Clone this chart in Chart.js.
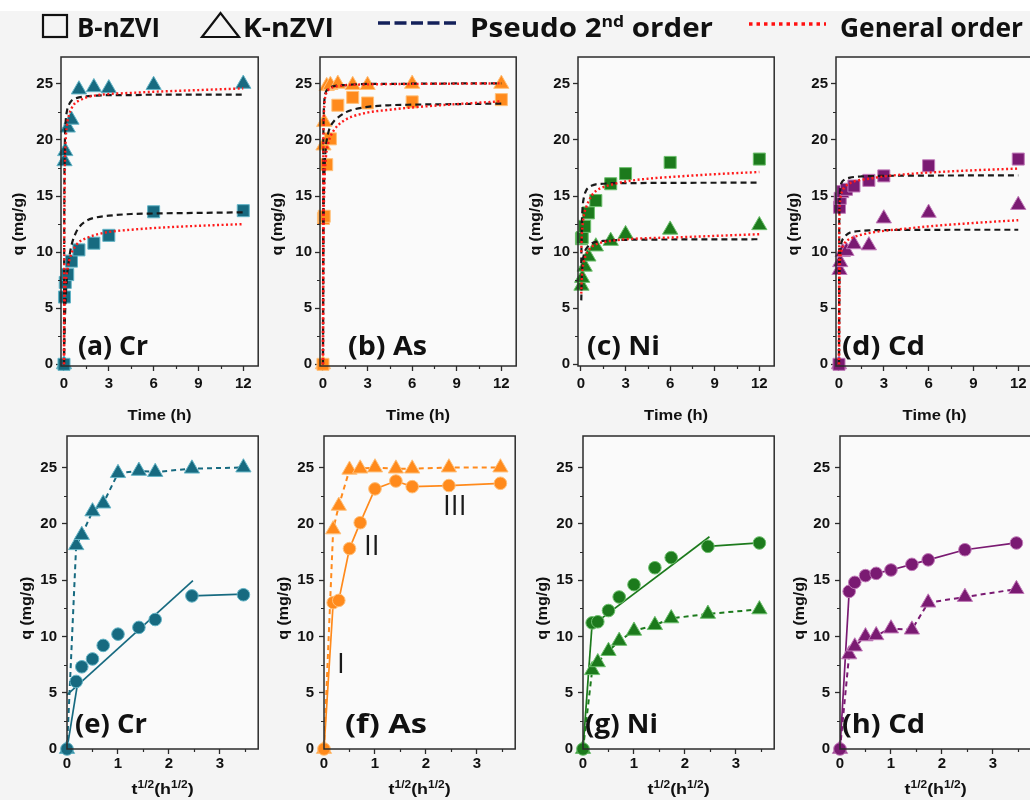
<!DOCTYPE html>
<html>
<head>
<meta charset="utf-8">
<script src="https://cdn.jsdelivr.net/npm/chart.js@4.4.1/dist/chart.umd.min.js"></script>
<style>
  html, body { margin: 0; padding: 0; }
  body { width: 1030px; height: 800px; overflow: hidden; position: relative; background: #f4f4f4; }
  canvas { position: absolute; }
  #band { position: absolute; left: 0; top: 0; width: 1030px; height: 11px; background: #ffffff; }
</style>
</head>
<body>
<div id="band"></div>
<canvas id="legend" width="1030" height="46" style="left:0;top:0"></canvas>
<canvas id="pa"></canvas>
<canvas id="pb"></canvas>
<canvas id="pc"></canvas>
<canvas id="pd"></canvas>
<canvas id="pe"></canvas>
<canvas id="pf"></canvas>
<canvas id="pg"></canvas>
<canvas id="ph"></canvas>
<script>
// sampling times (h) and their square roots
const TIME = [0, 0.033, 0.083, 0.25, 0.5, 1, 2, 3, 6, 12];
const ROOT_TIME = [0, 0.18, 0.29, 0.5, 0.71, 1, 1.41, 1.73, 2.45, 3.46];

// measured uptake q (mg/g), B-nZVI and K-nZVI
const CR_B = [0, 6.0, 7.3, 8.0, 9.2, 10.2, 10.8, 11.5, 13.6, 13.7];
const CR_K = [0, 18.1, 19.0, 21.1, 21.8, 24.5, 24.7, 24.6, 24.9, 25.0];
const AS_B = [0, 13.0, 13.2, 17.8, 20.1, 23.1, 23.8, 23.3, 23.4, 23.6];
const AS_K = [0, 19.5, 21.6, 24.8, 24.9, 25.0, 24.9, 24.9, 25.0, 25.0];
const NI_B = [0, 11.2, 11.3, 12.3, 13.5, 14.6, 16.1, 17.0, 18.0, 18.3];
const NI_K = [0, 7.0, 7.7, 8.7, 9.6, 10.5, 11.0, 11.6, 12.0, 12.4];
const CD_B = [0, 14.0, 14.8, 15.4, 15.6, 15.9, 16.4, 16.8, 17.7, 18.3];
const CD_K = [0, 8.4, 9.1, 10.0, 10.1, 10.7, 10.6, 13.0, 13.5, 14.2];

// model curves
const FIT_TIME = [0, 0.02, 0.05, 0.1, 0.2, 0.35, 0.5, 0.75, 1, 1.5, 2, 3, 4.5, 6, 9, 12];
const CR_PSO_B = [0, 1.5, 3.4, 5.5, 7.8, 9.5, 10.6, 11.6, 12.2, 12.8, 13.05, 13.25, 13.4, 13.45, 13.5, 13.55];
const CR_PSO_K = [0, 14, 19, 21.3, 22.6, 23.2, 23.5, 23.7, 23.8, 23.9, 23.95, 24.0, 24.0, 24.05, 24.05, 24.05];
const CR_GEN_B = [0, 4, 5.8, 7.0, 8.2, 9.2, 9.9, 10.5, 10.9, 11.25, 11.5, 11.8, 12.0, 12.15, 12.35, 12.5];
const CR_GEN_K = [0, 11, 16.5, 19.5, 21.3, 22.3, 22.8, 23.3, 23.5, 23.8, 23.95, 24.1, 24.2, 24.3, 24.45, 24.6];
const AS_PSO_B = [0, 9, 14, 17.2, 19.4, 20.6, 21.2, 21.7, 22.0, 22.45, 22.7, 22.95, 23.1, 23.15, 23.2, 23.25];
const AS_PSO_K = [0, 18, 22.3, 23.6, 24.3, 24.55, 24.7, 24.8, 24.85, 24.9, 24.95, 25.0, 25.0, 25.02, 25.04, 25.05];
const AS_GEN_B = [0, 8, 13, 16.2, 18.5, 19.7, 20.3, 20.9, 21.3, 21.8, 22.1, 22.45, 22.7, 22.9, 23.2, 23.45];
const AS_GEN_K = [0, 17, 21.5, 23.2, 24.1, 24.45, 24.6, 24.75, 24.8, 24.88, 24.92, 24.96, 24.98, 25.0, 25.02, 25.05];
const NI_PSO_B = [null, 9.0, 12.0, 13.8, 14.9, 15.5, 15.75, 15.95, 16.05, 16.1, 16.15, 16.15, 16.17, 16.18, 16.19, 16.2];
const NI_PSO_K = [null, 5.7, 7.6, 8.9, 9.8, 10.3, 10.55, 10.8, 10.9, 11.0, 11.05, 11.1, 11.12, 11.13, 11.14, 11.15];
const NI_GEN_B = [null, 10.0, 11.3, 12.3, 13.3, 14.0, 14.5, 15.1, 15.45, 15.8, 16.0, 16.3, 16.55, 16.7, 16.95, 17.15];
const NI_GEN_K = [null, 6.3, 7.5, 8.4, 9.2, 9.8, 10.15, 10.5, 10.7, 10.9, 11.0, 11.15, 11.25, 11.3, 11.45, 11.6];
const CD_PSO_B = [0, 13.0, 15.0, 15.8, 16.25, 16.45, 16.55, 16.65, 16.7, 16.75, 16.78, 16.8, 16.82, 16.83, 16.84, 16.85];
const CD_PSO_K = [0, 6.5, 9.0, 10.3, 11.0, 11.35, 11.55, 11.75, 11.83, 11.9, 11.95, 11.97, 11.98, 11.99, 12.0, 12.0];
const CD_GEN_B = [0, 12.5, 14.2, 14.9, 15.4, 15.75, 15.95, 16.15, 16.3, 16.45, 16.55, 16.75, 16.95, 17.1, 17.3, 17.45];
const CD_GEN_K = [0, 6.5, 8.6, 9.6, 10.3, 10.75, 11.0, 11.2, 11.35, 11.55, 11.7, 11.9, 12.1, 12.3, 12.6, 12.85];

// intraparticle diffusion fit segments [[x1, y1], [x2, y2]]
const CR_IPD_B = [[[0, 0], [0.2, 5.6]], [[0, 4.8], [2.47, 14.95]], [[2.45, 13.6], [3.46, 13.75]]];
const NI_IPD_B = [[[0, 0], [0.18, 11.2]], [[0.13, 10.8], [2.48, 18.85]], [[2.45, 18.0], [3.46, 18.3]]];

// tick values
const TIME_TICKS = [0, 3, 6, 9, 12];
const TIME_MINOR = [1.5, 4.5, 7.5, 10.5];
const ROOT_TICKS = [0, 1, 2, 3];
const ROOT_MINOR = [0.5, 1.5, 2.5, 3.5];
const Q_TICKS = [0, 5, 10, 15, 20, 25];
const Q_MINOR = [2.5, 7.5, 12.5, 17.5, 22.5];

// colours
const CR_COLOR = '#176a80', CR_EDGE = '#63b4c6';
const AS_COLOR = '#ff8a1c', AS_EDGE = '#ffc07a';
const NI_COLOR = '#1c7a1c', NI_EDGE = '#6cbf6c';
const CD_COLOR = '#7a1a72', CD_EDGE = '#c07ab8';
const PSO_COLOR = '#1a1a1a';
const GEN_COLOR = '#ff1a1a';
const PLOT_BG = '#fafafa';
const FRAME = '#2b2b2b';

const AXIS_W = 62, AXIS_H = 62, PAD_TOP = 8, PAD_RIGHT = 8;
const TICK_FONT = { family: "'Liberation Sans', Arial", weight: 700, size: 15 };

const PANELS = [
  { id: 'pa', kind: 'time', L: 61, T: 53, R: 260, B: 366, label: '(a) Cr', box: [78, 148, 355],
    color: CR_COLOR, edge: CR_EDGE, qB: CR_B, qK: CR_K, psoB: CR_PSO_B, psoK: CR_PSO_K, genB: CR_GEN_B, genK: CR_GEN_K },
  { id: 'pb', kind: 'time', L: 320, T: 53, R: 518, B: 366, label: '(b) As', box: [348, 427, 355],
    color: AS_COLOR, edge: AS_EDGE, qB: AS_B, qK: AS_K, psoB: AS_PSO_B, psoK: AS_PSO_K, genB: AS_GEN_B, genK: AS_GEN_K },
  { id: 'pc', kind: 'time', L: 578, T: 53, R: 776, B: 366, label: '(c) Ni', box: [587, 660, 355],
    color: NI_COLOR, edge: NI_EDGE, qB: NI_B, qK: NI_K, psoB: NI_PSO_B, psoK: NI_PSO_K, genB: NI_GEN_B, genK: NI_GEN_K, noOrigin: true },
  { id: 'pd', kind: 'time', L: 836, T: 53, R: 1035, B: 366, label: '(d) Cd', box: [842, 925, 355],
    color: CD_COLOR, edge: CD_EDGE, qB: CD_B, qK: CD_K, psoB: CD_PSO_B, psoK: CD_PSO_K, genB: CD_GEN_B, genK: CD_GEN_K },
  { id: 'pe', kind: 'root', L: 67, T: 430, R: 260, B: 749, label: '(e) Cr', box: [75, 147, 733],
    color: CR_COLOR, edge: CR_EDGE, qB: CR_B, qK: CR_K, fitB: CR_IPD_B },
  { id: 'pf', kind: 'root', L: 324, T: 430, R: 517, B: 749, label: '(f) As', box: [345, 427, 733],
    color: AS_COLOR, edge: AS_EDGE, qB: AS_B, qK: AS_K, stages: true },
  { id: 'pg', kind: 'root', L: 583, T: 430, R: 776, B: 749, label: '(g) Ni', box: [585, 658, 733],
    color: NI_COLOR, edge: NI_EDGE, qB: NI_B, qK: NI_K, fitB: NI_IPD_B },
  { id: 'ph', kind: 'root', L: 840, T: 430, R: 1033, B: 749, label: '(h) Cd', box: [842, 925, 733],
    color: CD_COLOR, edge: CD_EDGE, qB: CD_B, qK: CD_K }
];

function pts(xs, ys, skipFirst) {
  const out = [];
  xs.forEach((x, i) => {
    if (ys[i] === null || (skipFirst && i === 0)) return;
    out.push({ x: x, y: ys[i] });
  });
  return out;
}

// draws text pieces stretched to fill [left, right]
function drawFitted(ctx, parts, left, right, baseline) {
  let total = 0;
  parts.forEach(s => { ctx.font = s.font; s.w = ctx.measureText(s.text).width; total += s.w; });
  const k = (right - left) / total;
  ctx.save();
  ctx.textAlign = 'left';
  ctx.textBaseline = 'alphabetic';
  ctx.translate(left, baseline);
  ctx.scale(k, 1);
  let x = 0;
  parts.forEach(s => { ctx.font = s.font; ctx.fillText(s.text, x, s.dy || 0); x += s.w; });
  ctx.restore();
}

function markerSet(data, style, radius, p, order) {
  return {
    data: data, showLine: false, pointStyle: style, pointRadius: radius,
    pointBackgroundColor: p.color, pointBorderColor: p.edge, pointBorderWidth: 1,
    order: order, clip: false
  };
}

function lineSet(data, color, width, dash, order, smooth) {
  return {
    data: data, showLine: true, pointRadius: 0, borderColor: color, borderWidth: width,
    borderDash: dash, order: order, cubicInterpolationMode: smooth ? 'monotone' : 'default', tension: 0
  };
}

function buildDatasets(p) {
  if (p.kind === 'time') {
    return [
      markerSet(pts(TIME, p.qB, p.noOrigin), 'rect', 8.5, p, 3),
      markerSet(pts(TIME, p.qK, p.noOrigin), 'triangle', 8.8, p, 3),
      lineSet(pts(FIT_TIME, p.psoB), PSO_COLOR, 2.2, [6, 4], 2, true),
      lineSet(pts(FIT_TIME, p.psoK), PSO_COLOR, 2.2, [6, 4], 2, true),
      lineSet(pts(FIT_TIME, p.genB), GEN_COLOR, 2.4, [2, 2.5], 1, true),
      lineSet(pts(FIT_TIME, p.genK), GEN_COLOR, 2.4, [2, 2.5], 1, true)
    ];
  }
  const sets = [
    markerSet(pts(ROOT_TIME, p.qB), 'circle', 6.3, p, 1),
    markerSet(pts(ROOT_TIME, p.qK), 'triangle', 8.8, p, 1),
    lineSet(pts(ROOT_TIME, p.qK), p.color, 2, [5, 4], 2, false)
  ];
  if (p.fitB) {
    p.fitB.forEach(seg => sets.push(lineSet(seg.map(s => ({ x: s[0], y: s[1] })), p.color, 1.7, [], 2, false)));
  } else {
    sets.push(lineSet(pts(ROOT_TIME, p.qB), p.color, 1.7, [], 2, false));
  }
  return sets;
}

function makeDecor(p, ox, oy) {
  return {
    id: 'decor',
    beforeDraw(chart) {
      const a = chart.chartArea, ctx = chart.ctx;
      ctx.save();
      ctx.fillStyle = PLOT_BG;
      ctx.fillRect(a.left, a.top, a.right - a.left, a.bottom - a.top);
      ctx.restore();
    },
    afterDraw(chart) {
      const a = chart.chartArea, ctx = chart.ctx;
      const xs = chart.scales.x, ys = chart.scales.y;
      ctx.save();
      ctx.strokeStyle = FRAME;
      ctx.lineWidth = 1.5;
      ctx.strokeRect(a.left, a.top, a.right - a.left, a.bottom - a.top);

      // minor ticks
      ctx.lineWidth = 1.2;
      ctx.beginPath();
      (p.kind === 'time' ? TIME_MINOR : ROOT_MINOR).forEach(v => {
        if (v < xs.min || v > xs.max) return;
        const px = Math.round(xs.getPixelForValue(v)) + 0.5;
        ctx.moveTo(px, a.bottom); ctx.lineTo(px, a.bottom + 3);
      });
      Q_MINOR.forEach(v => {
        const py = Math.round(ys.getPixelForValue(v)) + 0.5;
        ctx.moveTo(a.left, py); ctx.lineTo(a.left - 3, py);
      });
      ctx.stroke();

      ctx.fillStyle = '#111';
      // y title, rotated, 63px long
      ctx.save();
      ctx.translate(a.left - (p.kind === 'time' ? 43 : 41), ys.getPixelForValue(12.5));
      ctx.rotate(-Math.PI / 2);
      drawFitted(ctx, [{ text: 'q (mg/g)', font: "700 14px 'Liberation Sans', Arial" }], -31.5, 31.5, 5);
      ctx.restore();

      // x title
      const cx = (a.left + a.right) / 2;
      if (p.kind === 'time') {
        drawFitted(ctx, [{ text: 'Time (h)', font: "700 15px 'Liberation Sans', Arial" }], cx - 32, cx + 32, a.bottom + 54);
      } else {
        const big = "700 15px 'Liberation Sans', Arial", small = "700 10px 'Liberation Sans', Arial";
        const parts = [
          { text: 't', font: big }, { text: '1/2', font: small, dy: -6 },
          { text: '(h', font: big }, { text: '1/2', font: small, dy: -6 }, { text: ')', font: big }
        ];
        drawFitted(ctx, parts, cx - 31, cx + 31, a.bottom + 45);
      }

      // panel label
      drawFitted(ctx, [{ text: p.label, font: '700 27px "Open Sans"' }], p.box[0] - ox, p.box[1] - ox, p.box[2] - oy);

      // stage numerals in (f)
      if (p.stages) {
        ctx.font = '400 28px "Open Sans"';
        ctx.textAlign = 'left';
        ctx.fillStyle = '#1a1a1a';
        ctx.fillText('I', 337 - ox, 673 - oy);
        ctx.fillText('II', 364 - ox, 555 - oy);
        ctx.fillText('III', 443 - ox, 515 - oy);
      }
      ctx.restore();
    }
  };
}

function buildChart(p) {
  const canvas = document.getElementById(p.id);
  const ox = p.L - AXIS_W, oy = p.T - PAD_TOP;
  canvas.width = p.R - p.L + AXIS_W + PAD_RIGHT;
  canvas.height = p.B - p.T + PAD_TOP + AXIS_H;
  canvas.style.left = ox + 'px';
  canvas.style.top = oy + 'px';

  const isTime = p.kind === 'time';
  const xTicks = isTime ? TIME_TICKS : ROOT_TICKS;
  const grid = { display: true, drawOnChartArea: false, drawTicks: true, tickLength: 5, tickColor: FRAME, tickWidth: 1.3 };

  new Chart(canvas, {
    type: 'scatter',
    data: { datasets: buildDatasets(p) },
    options: {
      responsive: false,
      animation: false,
      devicePixelRatio: 1,
      layout: { padding: { left: 0, top: PAD_TOP, right: PAD_RIGHT, bottom: 0 } },
      plugins: { legend: { display: false }, tooltip: { enabled: false } },
      scales: {
        x: {
          type: 'linear',
          min: isTime ? -0.2 : 0,
          max: isTime ? 13 : 3.75,
          afterFit: s => { s.height = AXIS_H; },
          afterBuildTicks: s => { s.ticks = xTicks.map(v => ({ value: v })); },
          grid: grid,
          border: { display: false },
          ticks: { font: TICK_FONT, color: '#111', padding: isTime ? 4 : 1, maxRotation: 0, autoSkip: false }
        },
        y: {
          type: 'linear',
          min: isTime ? -0.15 : 0,
          max: isTime ? 27.4 : 27.8,
          afterFit: s => { s.width = AXIS_W; },
          afterBuildTicks: s => { s.ticks = Q_TICKS.map(v => ({ value: v })); },
          grid: grid,
          border: { display: false },
          ticks: { font: TICK_FONT, color: '#111', padding: isTime ? 3 : 5, autoSkip: false }
        }
      }
    },
    plugins: [makeDecor(p, ox, oy)]
  });
}

function drawLegend() {
  const ctx = document.getElementById('legend').getContext('2d');
  ctx.strokeStyle = '#111';
  ctx.fillStyle = '#111';
  ctx.lineWidth = 2.2;
  ctx.strokeRect(43, 15, 24, 22);
  ctx.beginPath();
  ctx.moveTo(202, 37); ctx.lineTo(239, 37); ctx.lineTo(220.5, 13); ctx.closePath();
  ctx.stroke();

  const f = 'bold 27px "Open Sans"', sup = 'bold 16px "Open Sans"';
  drawFitted(ctx, [{ text: 'B-nZVI', font: f }], 77, 160, 37);
  drawFitted(ctx, [{ text: 'K-nZVI', font: f }], 243, 334, 37);
  drawFitted(ctx, [{ text: 'Pseudo 2', font: f }, { text: 'nd', font: sup, dy: -10 }, { text: ' order', font: f }], 470, 713, 37);
  drawFitted(ctx, [{ text: 'General order', font: f }], 840, 1023, 37);

  ctx.lineWidth = 3.5;
  ctx.setLineDash([12, 4.5]);
  ctx.strokeStyle = '#13205a';
  ctx.beginPath(); ctx.moveTo(378, 23); ctx.lineTo(460, 23); ctx.stroke();
  ctx.setLineDash([3.5, 4]);
  ctx.strokeStyle = '#ff1010';
  ctx.beginPath(); ctx.moveTo(749, 24); ctx.lineTo(826, 24); ctx.stroke();
}

window.onload = function() {
  drawLegend();
  PANELS.forEach(buildChart);
};
</script>
</body>
</html>
